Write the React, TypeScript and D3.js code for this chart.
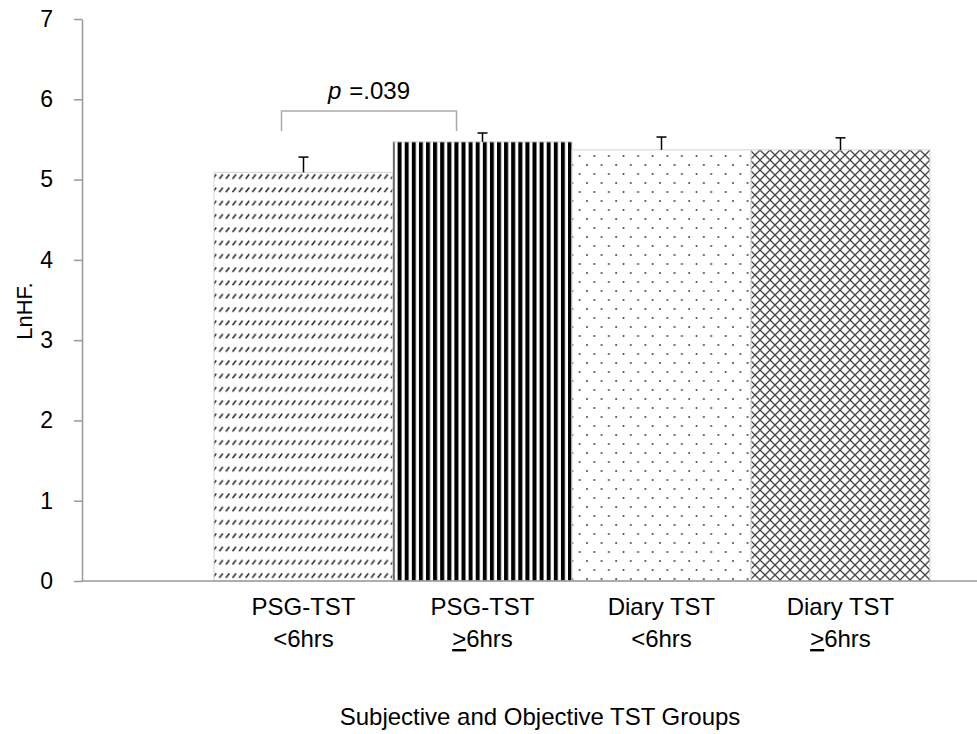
import React, { useEffect, useRef } from "react";
import * as d3 from "d3";

// chart values
const groups = ["psgLt6", "psgGe6", "diaryLt6", "diaryGe6"];
const labelTop = ["PSG-TST", "PSG-TST", "Diary TST", "Diary TST"];
const labelSign = ["<", ">", "<", ">"];
const signUnderlined = [false, true, false, true];
const lnhf = [5.09, 5.47, 5.37, 5.37];
const sem = [0.19, 0.11, 0.16, 0.15];
const patternIds = ["pat-dash", "pat-vert", "pat-dots", "pat-cross"];
const yTicks = [0, 1, 2, 3, 4, 5, 6, 7];

const W = 977;
const H = 734;
const FONT = "'Liberation Sans', Arial, sans-serif";

function App() {
  const ref = useRef<SVGSVGElement>(null);

  useEffect(() => {
    const svg = d3.select(ref.current);
    svg.selectAll("*").remove();

    const y = d3.scaleLinear().domain([0, 7]).range([581, 19]);
    const x = d3.scaleBand().domain(groups).range([214, 930]).padding(0);
    const axisX = 82;

    const defs = svg.append("defs");

    // short slanted dashes
    const p1 = defs.append("pattern").attr("id", "pat-dash")
      .attr("patternUnits", "userSpaceOnUse").attr("width", 6.6).attr("height", 13.3);
    p1.append("rect").attr("width", 6.6).attr("height", 13.3).attr("fill", "#fff");
    p1.append("line").attr("x1", 1.5).attr("y1", 6).attr("x2", 5).attr("y2", 1.5)
      .attr("stroke", "#2a2a2a").attr("stroke-width", 1.6);

    // vertical stripes
    const p2 = defs.append("pattern").attr("id", "pat-vert")
      .attr("patternUnits", "userSpaceOnUse").attr("width", 7.1).attr("height", 10);
    p2.append("rect").attr("width", 7.1).attr("height", 10).attr("fill", "#fff");
    p2.append("rect").attr("width", 4).attr("height", 10).attr("fill", "#000");

    // offset dots
    const p3 = defs.append("pattern").attr("id", "pat-dots")
      .attr("patternUnits", "userSpaceOnUse").attr("width", 14.6).attr("height", 18);
    p3.append("rect").attr("width", 14.6).attr("height", 18).attr("fill", "#fff");
    p3.append("circle").attr("cx", 3).attr("cy", 3).attr("r", 1).attr("fill", "#444");
    p3.append("circle").attr("cx", 10.3).attr("cy", 12).attr("r", 1).attr("fill", "#444");

    // diagonal crosshatch
    const p4 = defs.append("pattern").attr("id", "pat-cross")
      .attr("patternUnits", "userSpaceOnUse").attr("width", 10).attr("height", 10);
    p4.append("rect").attr("width", 10).attr("height", 10).attr("fill", "#fff");
    p4.append("path").attr("d", "M0,0L10,10M10,0L0,10")
      .attr("stroke", "#444").attr("stroke-width", 1.3).attr("fill", "none");

    // bars
    svg.append("g").selectAll("rect")
      .data(groups)
      .join("rect")
      .attr("x", (d) => x(d)!)
      .attr("width", x.bandwidth())
      .attr("y", (d, i) => y(lnhf[i]))
      .attr("height", (d, i) => y(0) - y(lnhf[i]))
      .attr("fill", (d, i) => `url(#${patternIds[i]})`)
      .attr("stroke", "#d4d4d4")
      .attr("stroke-width", 1);

    // error bars (upper only)
    const eb = svg.append("g").attr("stroke", "#000").attr("stroke-width", 1.5);
    groups.forEach((g, i) => {
      const cx = x(g)! + x.bandwidth() / 2;
      eb.append("line").attr("x1", cx).attr("x2", cx)
        .attr("y1", y(lnhf[i])).attr("y2", y(lnhf[i] + sem[i]));
      eb.append("line").attr("x1", cx - 5).attr("x2", cx + 5)
        .attr("y1", y(lnhf[i] + sem[i])).attr("y2", y(lnhf[i] + sem[i]));
    });

    // y axis
    const yAxis = svg.append("g")
      .attr("transform", `translate(${axisX},0)`)
      .call(d3.axisLeft(y).tickValues(yTicks).tickFormat(d3.format("d"))
        .tickSize(8).tickPadding(21).tickSizeOuter(0));
    yAxis.select(".domain").attr("stroke", "#999").attr("stroke-width", 1.5);
    yAxis.selectAll(".tick line").attr("stroke", "#999").attr("stroke-width", 1.5);
    yAxis.selectAll(".tick text")
      .attr("font-family", FONT).attr("font-size", 23).attr("fill", "#000");

    // x baseline
    svg.append("line").attr("x1", axisX).attr("x2", W)
      .attr("y1", y(0)).attr("y2", y(0))
      .attr("stroke", "#999").attr("stroke-width", 1.5);

    // category labels
    groups.forEach((g, i) => {
      const cx = x(g)! + x.bandwidth() / 2;
      const t = svg.append("text").attr("x", cx).attr("text-anchor", "middle")
        .attr("font-family", FONT).attr("font-size", 24).attr("fill", "#000");
      t.append("tspan").attr("x", cx).attr("y", 615).text(labelTop[i]);
      const l2 = t.append("tspan").attr("x", cx).attr("y", 647);
      const s = l2.append("tspan").text(labelSign[i]);
      if (signUnderlined[i]) s.style("text-decoration", "underline");
      l2.append("tspan").text("6hrs");
    });

    // axis titles
    svg.append("text").attr("x", 540).attr("y", 725).attr("text-anchor", "middle")
      .attr("font-family", FONT).attr("font-size", 24).attr("fill", "#000")
      .text("Subjective and Objective TST Groups");
    svg.append("text")
      .attr("transform", `translate(32,311) rotate(-90)`)
      .attr("text-anchor", "middle")
      .attr("font-family", FONT).attr("font-size", 22).attr("fill", "#000")
      .text("LnHF.");

    // significance bracket between the two PSG bars
    const bx1 = x(groups[0])! + x.bandwidth() / 2 - 22;
    const bx2 = x(groups[1])! + x.bandwidth() / 2 - 26;
    svg.append("path")
      .attr("d", `M${bx1},131V111H${bx2}V131`)
      .attr("fill", "none").attr("stroke", "#aaa").attr("stroke-width", 1.5);
    const pt = svg.append("text").attr("x", (bx1 + bx2) / 2).attr("y", 99)
      .attr("text-anchor", "middle")
      .attr("font-family", FONT).attr("font-size", 24).attr("fill", "#000");
    pt.append("tspan").attr("font-style", "italic").text("p");
    pt.append("tspan").attr("dx", 8).text("=.039");
  }, []);

  return (
    <div style={{ position: "absolute", left: 0, top: 0 }}>
      <svg ref={ref} width={W} height={H} style={{ display: "block", background: "#fff" }} />
    </div>
  );
}

export default App;
